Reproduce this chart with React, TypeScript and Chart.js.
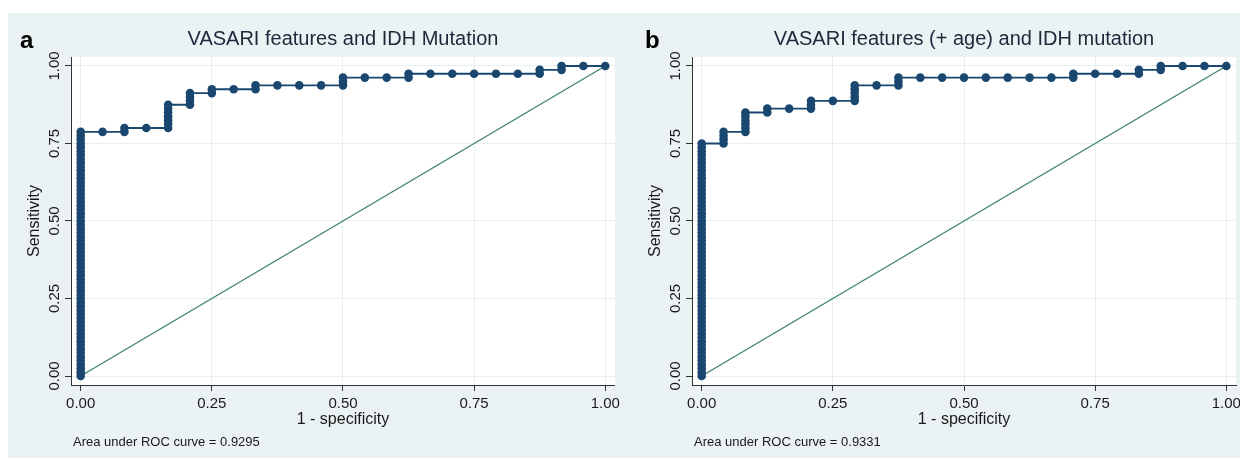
import React, { useEffect, useRef } from "react";
import { Chart, registerables } from "chart.js";

Chart.register(...registerables);

// ---------------- data ----------------
const NEGATIVES = 24;
const POSITIVES = 80;

const AXIS_TICKS = [0, 0.25, 0.5, 0.75, 1];
const TICK_LABELS = ["0.00", "0.25", "0.50", "0.75", "1.00"];

const TITLE_A = "VASARI features and IDH Mutation";
const TITLE_B = "VASARI features (+ age) and IDH mutation";
const AUC_A = "0.9295";
const AUC_B = "0.9331";
const X_TITLE = "1 - specificity";
const Y_TITLE = "Sensitivity";

// Panel a: ROC operating points as false-positive counts (of 24) and true-positive counts (of 80)
const FP_A = [
  0, 0, 0, 0, 0, 0, 0, 0, 0, 0, 0, 0, 0, 0, 0, 0,
  0, 0, 0, 0, 0, 0, 0, 0, 0, 0, 0, 0, 0, 0, 0, 0,
  0, 0, 0, 0, 0, 0, 0, 0, 0, 0, 0, 0, 0, 0, 0, 0,
  0, 0, 0, 0, 0, 0, 0, 0, 0, 0, 0, 0, 0, 0, 0, 0,
  1, 2, 2, 3, 4, 4, 4, 4, 4, 4, 4, 5, 5, 5, 5, 6, 6, 7, 8, 8,
  9, 10, 11, 12, 12, 12, 13, 14, 15, 15, 16, 17, 18, 19, 20, 21, 21, 22, 22, 23, 24,
];
const TP_A = [
  0, 1, 2, 3, 4, 5, 6, 7, 8, 9, 10, 11, 12, 13, 14, 15,
  16, 17, 18, 19, 20, 21, 22, 23, 24, 25, 26, 27, 28, 29, 30, 31,
  32, 33, 34, 35, 36, 37, 38, 39, 40, 41, 42, 43, 44, 45, 46, 47,
  48, 49, 50, 51, 52, 53, 54, 55, 56, 57, 58, 59, 60, 61, 62, 63,
  63, 63, 64, 64, 64, 65, 66, 67, 68, 69, 70, 70, 71, 72, 73, 73, 74, 74, 74, 75,
  75, 75, 75, 75, 76, 77, 77, 77, 77, 78, 78, 78, 78, 78, 78, 78, 79, 79, 80, 80, 80,
];

// Panel b: ROC operating points (with age)
const FP_B = [
  0, 0, 0, 0, 0, 0, 0, 0, 0, 0, 0, 0, 0, 0, 0, 0,
  0, 0, 0, 0, 0, 0, 0, 0, 0, 0, 0, 0, 0, 0, 0, 0,
  0, 0, 0, 0, 0, 0, 0, 0, 0, 0, 0, 0, 0, 0, 0, 0,
  0, 0, 0, 0, 0, 0, 0, 0, 0, 0, 0, 0, 0,
  1, 1, 1, 1, 2, 2, 2, 2, 2, 2, 3, 3, 4, 5, 5, 5, 6, 7, 7, 7, 7, 7, 8,
  9, 9, 9, 10, 11, 12, 13, 14, 15, 16, 17, 17, 18, 19, 20, 20, 21, 21, 22, 23, 24,
];
const TP_B = [
  0, 1, 2, 3, 4, 5, 6, 7, 8, 9, 10, 11, 12, 13, 14, 15,
  16, 17, 18, 19, 20, 21, 22, 23, 24, 25, 26, 27, 28, 29, 30, 31,
  32, 33, 34, 35, 36, 37, 38, 39, 40, 41, 42, 43, 44, 45, 46, 47,
  48, 49, 50, 51, 52, 53, 54, 55, 56, 57, 58, 59, 60,
  60, 61, 62, 63, 63, 64, 65, 66, 67, 68, 68, 69, 69, 69, 70, 71, 71, 71, 72, 73, 74, 75, 75,
  75, 76, 77, 77, 77, 77, 77, 77, 77, 77, 77, 78, 78, 78, 78, 79, 79, 80, 80, 80, 80,
];

// reference (chance) line endpoints
const REF_X = [0, 1];
const REF_Y = [0, 1];

// ---------------- styles ----------------
const FONT = '"Liberation Sans", Arial, Helvetica, sans-serif';
const BG = "#eaf2f3";
const GRID = "#e6eff1";
const NAVY = "#1a476f";
const REF_COLOR = "#3f8470";
const AXIS_COLOR = "#333333";
const TEXT = "#1a1a1a";
const TITLE_COLOR = "#202a3c";

type PanelProps = {
  letter: string;
  title: string;
  auc: string;
  fp: number[];
  tp: number[];
  left: number;
  width: number;
  padRight: number;
  letterX: number;
};

function RocPanel(p: PanelProps) {
  const ref = useRef<HTMLCanvasElement | null>(null);
  useEffect(() => {
    const canvas = ref.current;
    if (!canvas) return;
    const points = p.fp.map((f, i) => ({ x: f / NEGATIVES, y: p.tp[i] / POSITIVES }));
    const refPts = REF_X.map((x, i) => ({ x, y: REF_Y[i] }));

    const decor = {
      id: "rocDecor",
      beforeDraw(chart: any) {
        const { ctx, chartArea: a } = chart;
        ctx.save();
        ctx.fillStyle = "#ffffff";
        ctx.fillRect(a.left, a.top, a.right - a.left, a.bottom - a.top);
        ctx.restore();
      },
      afterDraw(chart: any) {
        const { ctx, chartArea: a } = chart;
        const xs = chart.scales.x;
        const ys = chart.scales.y;
        ctx.save();
        // panel letter
        ctx.fillStyle = "#000000";
        ctx.font = `bold 24px ${FONT}`;
        ctx.textAlign = "left";
        ctx.textBaseline = "alphabetic";
        ctx.fillText(p.letter, p.letterX, 35);
        // title
        ctx.fillStyle = TITLE_COLOR;
        ctx.font = `20px ${FONT}`;
        ctx.textAlign = "center";
        ctx.fillText(p.title, (a.left + a.right) / 2, 32);
        // y tick labels (rotated)
        ctx.fillStyle = TEXT;
        ctx.font = `15px ${FONT}`;
        AXIS_TICKS.forEach((v, i) => {
          const y = ys.getPixelForValue(v);
          ctx.save();
          ctx.translate(a.left - 12, y);
          ctx.rotate(-Math.PI / 2);
          ctx.textAlign = "center";
          ctx.fillText(TICK_LABELS[i], 0, 0);
          ctx.restore();
        });
        // y title
        ctx.font = `16px ${FONT}`;
        const yMid = (ys.getPixelForValue(0) + ys.getPixelForValue(1)) / 2;
        ctx.save();
        ctx.translate(a.left - 32, yMid);
        ctx.rotate(-Math.PI / 2);
        ctx.textAlign = "center";
        ctx.fillText(Y_TITLE, 0, 0);
        ctx.restore();
        // x title
        const xMid = (xs.getPixelForValue(0) + xs.getPixelForValue(1)) / 2;
        ctx.textAlign = "center";
        ctx.fillText(X_TITLE, xMid, a.bottom + 39);
        // AUC note
        ctx.font = `13px ${FONT}`;
        ctx.textAlign = "left";
        ctx.fillText(`Area under ROC curve = ${p.auc}`, a.left + 2, a.bottom + 61);
        ctx.restore();
      },
    };

    const chart = new Chart(canvas, {
      type: "scatter",
      data: {
        datasets: [
          {
            data: points,
            showLine: true,
            borderColor: NAVY,
            borderWidth: 1.8,
            backgroundColor: NAVY,
            pointBackgroundColor: NAVY,
            pointBorderWidth: 0,
            pointRadius: 4.3,
            tension: 0,
          },
          {
            data: refPts,
            showLine: true,
            borderColor: REF_COLOR,
            borderWidth: 1.4,
            pointRadius: 0,
            tension: 0,
          },
        ],
      },
      options: {
        animation: false,
        responsive: false,
        events: [],
        layout: { padding: { left: 0, right: p.padRight, top: 44, bottom: 0 } },
        plugins: { legend: { display: false }, tooltip: { enabled: false }, title: { display: false } },
        scales: {
          x: {
            type: "linear",
            min: -0.0185,
            max: 1.0185,
            afterBuildTicks: (s: any) => {
              s.ticks = AXIS_TICKS.map((v) => ({ value: v }));
            },
            afterFit: (s: any) => {
              s.height = 73;
            },
            grid: { color: GRID, lineWidth: 1, drawTicks: true, tickLength: 6, tickColor: AXIS_COLOR, tickWidth: 1 },
            border: { display: true, color: AXIS_COLOR, width: 1 },
            ticks: {
              color: TEXT,
              font: { family: FONT, size: 15 },
              padding: 4,
              maxRotation: 0,
              minRotation: 0,
              autoSkip: false,
              callback: (v: any) => {
                const i = AXIS_TICKS.indexOf(Number(v));
                return i >= 0 ? TICK_LABELS[i] : "";
              },
            },
          },
          y: {
            type: "linear",
            min: -0.029,
            max: 1.029,
            afterBuildTicks: (s: any) => {
              s.ticks = AXIS_TICKS.map((v) => ({ value: v }));
            },
            afterFit: (s: any) => {
              s.width = 63;
            },
            grid: { color: GRID, lineWidth: 1, drawTicks: true, tickLength: 6, tickColor: AXIS_COLOR, tickWidth: 1 },
            border: { display: true, color: AXIS_COLOR, width: 1 },
            ticks: { display: false },
          },
        },
      },
      plugins: [decor],
    } as any);
    return () => chart.destroy();
  }, []);
  return (
    <canvas
      ref={ref}
      width={p.width}
      height={445}
      style={{ position: "absolute", left: p.left, top: 13, width: p.width, height: 445, display: "block" }}
    />
  );
}

export default function App() {
  return (
    <div
      style={{
        position: "absolute",
        left: 0,
        top: 0,
        width: 1240,
        height: 459,
        overflow: "hidden",
        background: "#ffffff",
      }}
    >
      <div style={{ position: "absolute", left: 8, top: 13, width: 1232, height: 445, background: BG }} />
      <RocPanel letter="a" title={TITLE_A} auc={AUC_A} fp={FP_A} tp={TP_A} left={8} width={616} padRight={9} letterX={12} />
      <RocPanel letter="b" title={TITLE_B} auc={AUC_B} fp={FP_B} tp={TP_B} left={629} width={620} padRight={13} letterX={16} />
    </div>
  );
}
